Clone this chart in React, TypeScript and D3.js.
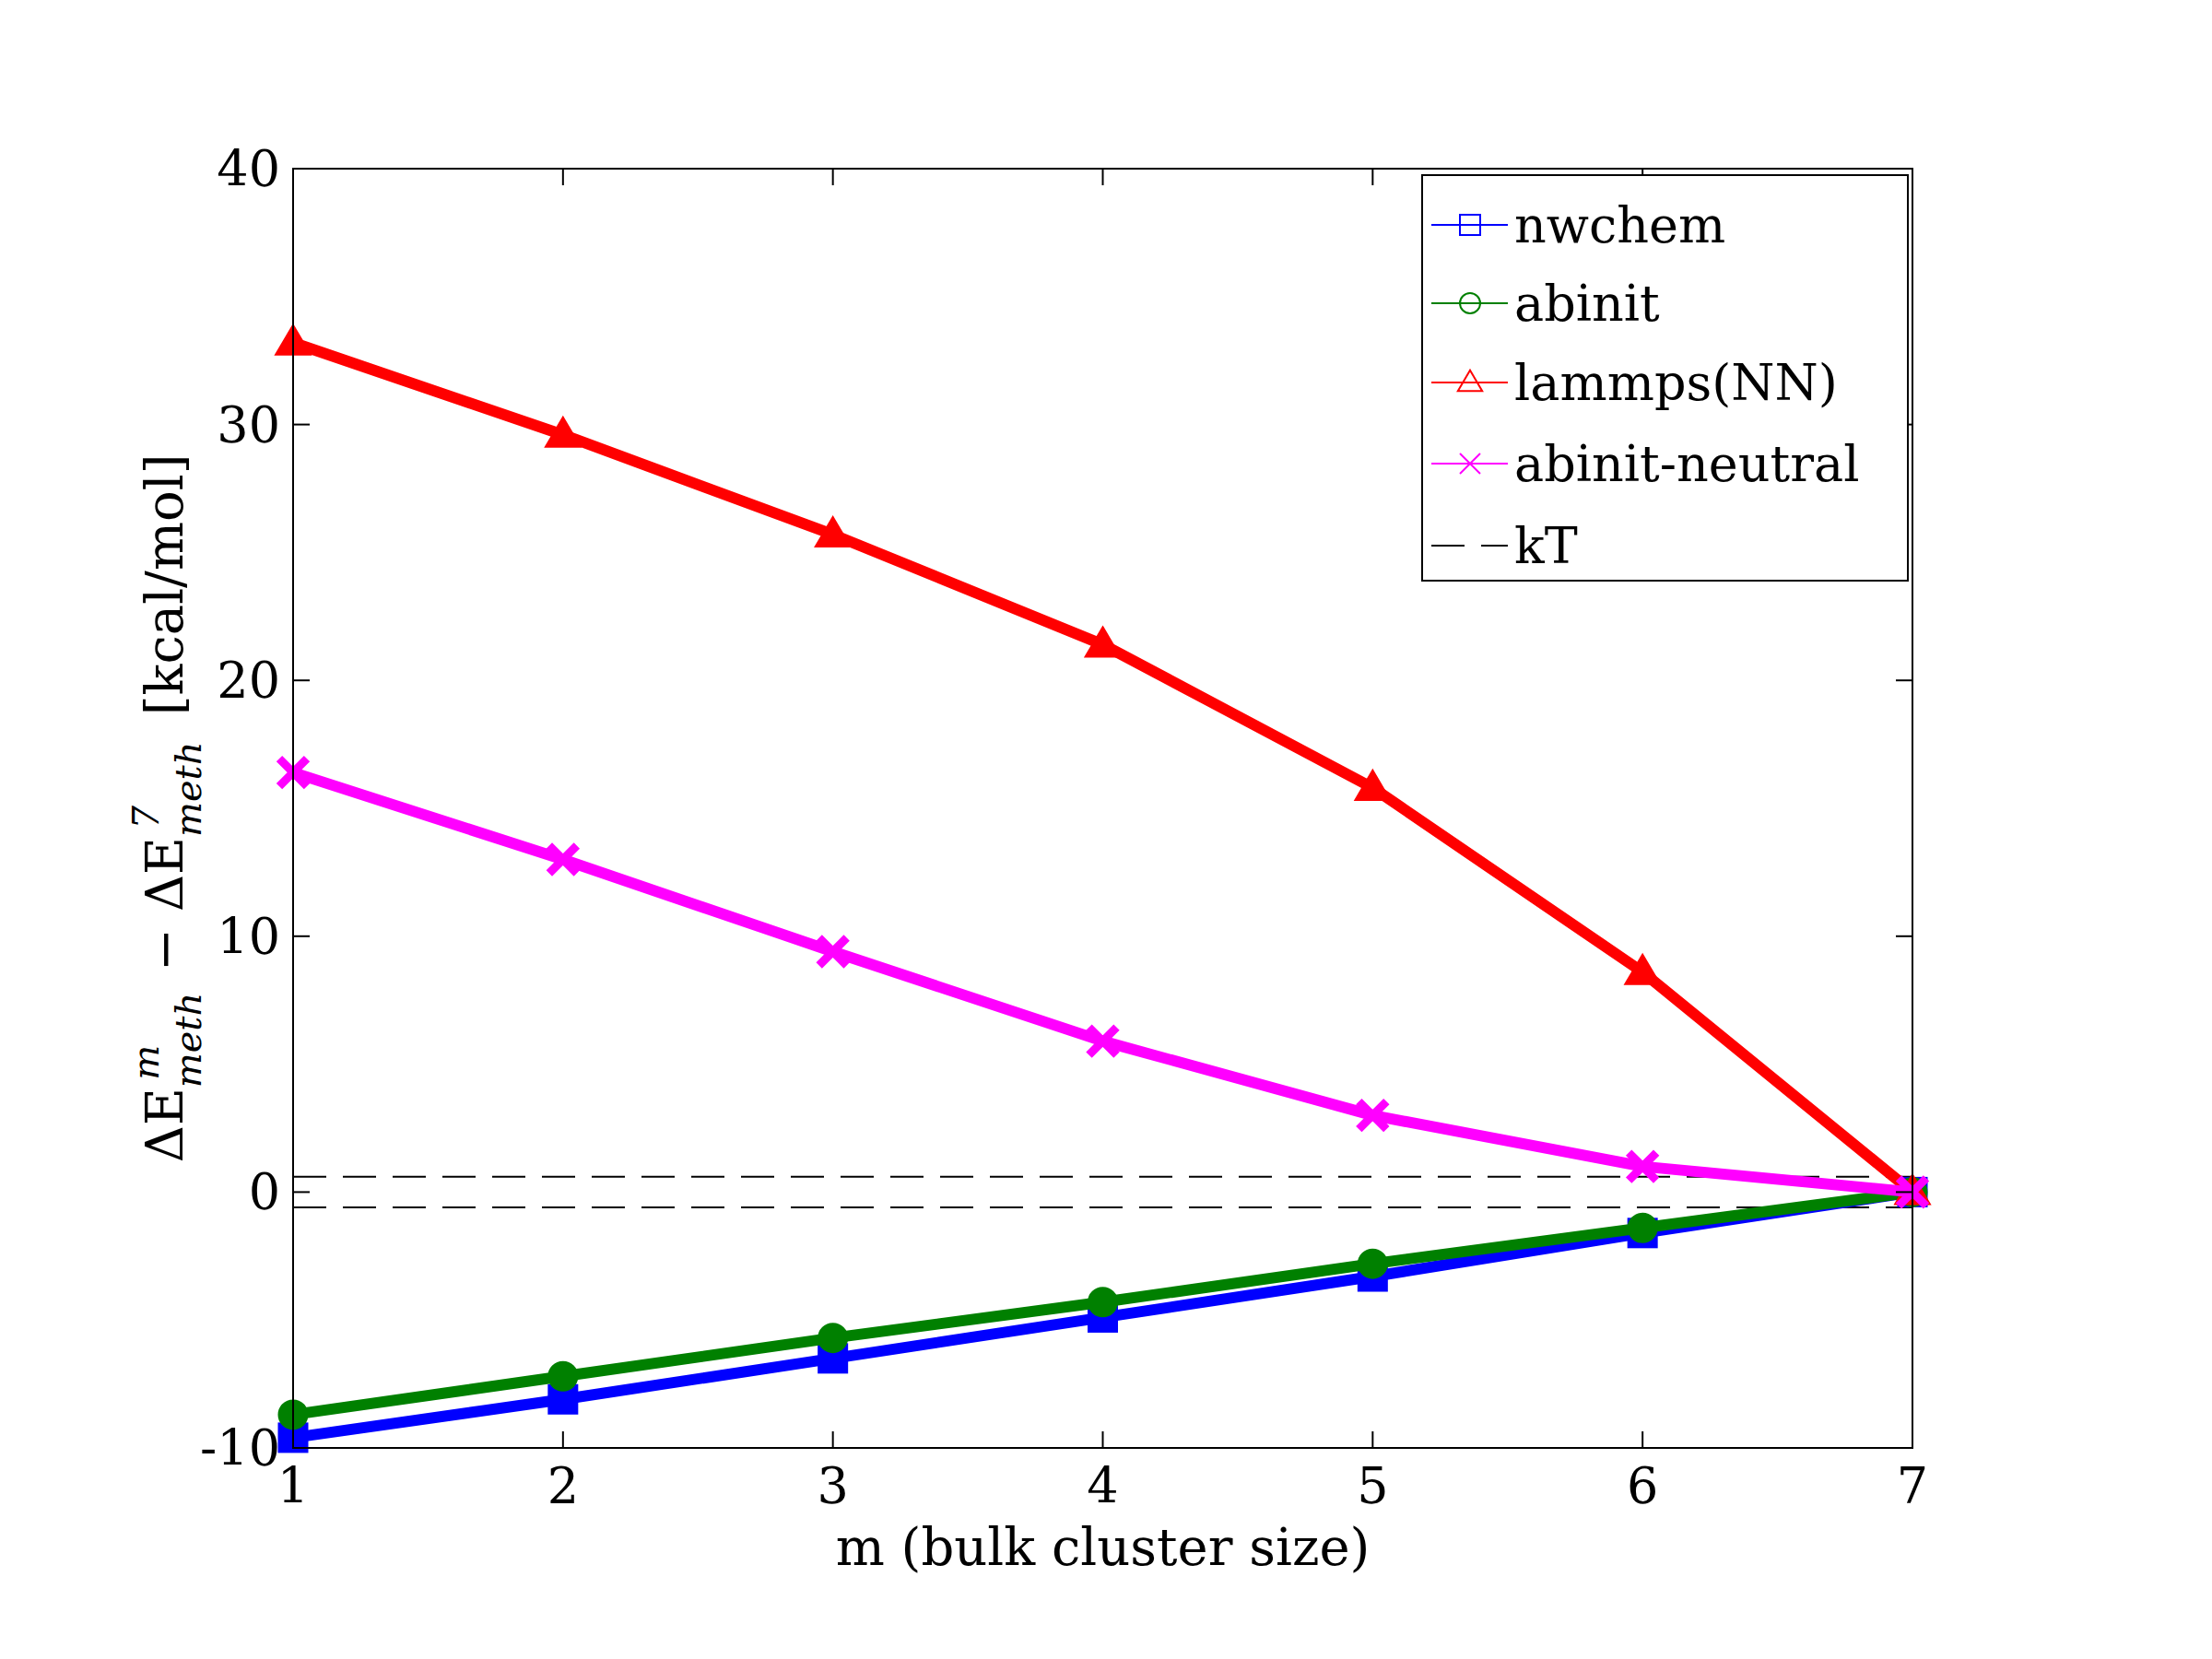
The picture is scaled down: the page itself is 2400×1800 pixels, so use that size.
import React from "react";
import * as d3 from "d3";

const xs = [1, 2, 3, 4, 5, 6, 7];
const nwchem = [-9.6, -8.1, -6.5, -4.9, -3.3, -1.6, 0];
const abinit = [-8.7, -7.2, -5.7, -4.3, -2.8, -1.4, 0];
const lammps = [33.2, 29.6, 25.7, 21.4, 15.8, 8.6, 0];
const neutral = [16.4, 13.0, 9.4, 5.9, 3.0, 1.0, 0];
const kT = 0.6;
const xTicks = [1, 2, 3, 4, 5, 6, 7];
const yTicks = [-10, 0, 10, 20, 30, 40];

const series = [
  { name: "nwchem", values: nwchem, color: "#0000ff", marker: "square" },
  { name: "abinit", values: abinit, color: "#008000", marker: "circle" },
  { name: "lammps(NN)", values: lammps, color: "#ff0000", marker: "triangle" },
  { name: "abinit-neutral", values: neutral, color: "#ff00ff", marker: "x" },
];

const W = 2400, H = 1800;
const L = 310, R = 2067, T = 175, B = 1563;
const font = "'DejaVu Serif', 'Liberation Serif', serif";

function Marker({ type, x, y, color, size, filled }: any) {
  const f = filled ? color : "none";
  const sw = filled ? 3 : 2;
  if (type === "square")
    return <rect x={x - size / 2} y={y - size / 2} width={size} height={size} fill={f} stroke={color} strokeWidth={sw} />;
  if (type === "circle") return <circle cx={x} cy={y} r={size / 2} fill={f} stroke={color} strokeWidth={sw} />;
  if (type === "triangle") {
    const s = size * 0.6;
    return <path d={`M${x},${y - s} L${x + s},${y + s * 0.7} L${x - s},${y + s * 0.7}Z`} fill={f} stroke={color} strokeWidth={sw} />;
  }
  const s = size / 2;
  return <path d={`M${x - s},${y - s}L${x + s},${y + s}M${x - s},${y + s}L${x + s},${y - s}`} stroke={color} strokeWidth={filled ? 9 : 2} />;
}

export default function App() {
  const x = d3.scaleLinear().domain([1, 7]).range([L, R]);
  const y = d3.scaleLinear().domain([-10, 40]).range([B, T]);
  const line = d3.line<number>().x((_, i) => x(xs[i])).y((v) => y(v));
  const legendY = [236, 321, 407, 495, 584];
  return (
    <svg width={W} height={H} style={{ display: "block" }} fontFamily={font}>
      <rect width={W} height={H} fill="#fff" />
      {[kT, -kT].map((k) => (
        <line key={k} x1={L} x2={R} y1={y(k)} y2={y(k)} stroke="#000" strokeWidth={2} strokeDasharray="36,18" />
      ))}
      {series.map((s) => (
        <g key={s.name}>
          <path d={line(s.values) || ""} fill="none" stroke={s.color} strokeWidth={12} strokeLinejoin="round" />
          {s.values.map((v, i) => (
            <Marker key={i} type={s.marker} x={x(xs[i])} y={y(v)} color={s.color} size={30} filled />
          ))}
        </g>
      ))}
      <rect x={L} y={T} width={R - L} height={B - T} fill="none" stroke="#000" strokeWidth={2} />
      {xTicks.map((t) => (
        <g key={t}>
          <line x1={x(t)} x2={x(t)} y1={B} y2={B - 18} stroke="#000" strokeWidth={2} />
          <line x1={x(t)} x2={x(t)} y1={T} y2={T + 18} stroke="#000" strokeWidth={2} />
          <text x={x(t)} y={B + 60} fontSize={54} textAnchor="middle">{t}</text>
        </g>
      ))}
      {yTicks.map((t) => (
        <g key={t}>
          <line x1={L} x2={L + 18} y1={y(t)} y2={y(t)} stroke="#000" strokeWidth={2} />
          <line x1={R} x2={R - 18} y1={y(t)} y2={y(t)} stroke="#000" strokeWidth={2} />
          <text x={L - 14} y={y(t) + 19} fontSize={54} textAnchor="end">{t}</text>
        </g>
      ))}
      <text x={(L + R) / 2} y={1690} fontSize={56} textAnchor="middle">m (bulk cluster size)</text>
      <text transform={`translate(190,${(T + B) / 2}) rotate(-90)`} fontSize={56} textAnchor="middle">
        ΔE<tspan fontStyle="italic" fontSize={40} dy={20}>meth</tspan>
        <tspan fontStyle="italic" fontSize={40} dy={-46} dx={-95}>m</tspan>
        <tspan dy={26} dx={62}> − ΔE</tspan>
        <tspan fontStyle="italic" fontSize={40} dy={20}>meth</tspan>
        <tspan fontStyle="italic" fontSize={40} dy={-46} dx={-95}>7</tspan>
        <tspan dy={26} dx={80}> [kcal/mol]</tspan>
      </text>
      <rect x={1535} y={182} width={527} height={440} fill="#fff" stroke="#000" strokeWidth={2} />
      {series.map((s, i) => (
        <g key={s.name}>
          <line x1={1545} x2={1628} y1={legendY[i]} y2={legendY[i]} stroke={s.color} strokeWidth={2} />
          <Marker type={s.marker} x={1587} y={legendY[i]} color={s.color} size={22} filled={false} />
          <text x={1635} y={legendY[i] + 19} fontSize={54}>{s.name}</text>
        </g>
      ))}
      <line x1={1545} x2={1628} y1={legendY[4]} y2={legendY[4]} stroke="#000" strokeWidth={2} strokeDasharray="36,18" />
      <text x={1635} y={legendY[4] + 19} fontSize={54}>kT</text>
    </svg>
  );
}
